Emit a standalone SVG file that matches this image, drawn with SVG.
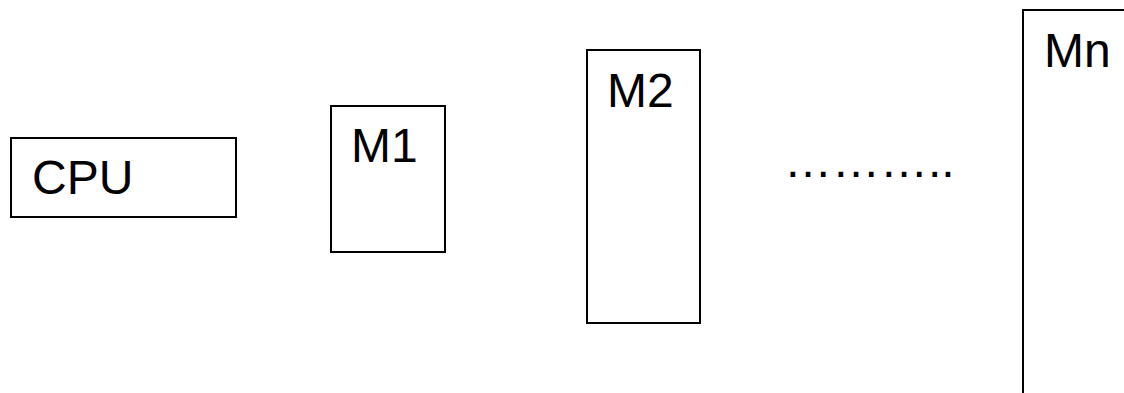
<svg xmlns="http://www.w3.org/2000/svg" width="1124" height="393" viewBox="0 0 1124 393">
<style>
.box{fill:#fff;stroke:#000;stroke-width:2}
.lbl{font-family:"Liberation Sans",Arial,sans-serif;font-size:48px;fill:#000}
</style>
<rect width="1124" height="393" fill="#fff"/>
<g id="cpu"><rect class="box" x="11" y="138" width="225" height="79"/><text class="lbl" x="32" y="194">CPU</text></g>
<g id="m1"><rect class="box" x="331" y="106" width="114" height="146"/><text class="lbl" x="351" y="162">M1</text></g>
<g id="m2"><rect class="box" x="587" y="50" width="113" height="273"/><text class="lbl" x="607" y="107">M2</text></g>
<g id="dots"><text class="lbl" x="784" y="177">………..</text></g>
<g id="mn"><rect class="box" x="1023" y="10" width="140" height="420"/><text class="lbl" x="1044" y="67">Mn</text></g>
<g id="connectors"/>
</svg>
